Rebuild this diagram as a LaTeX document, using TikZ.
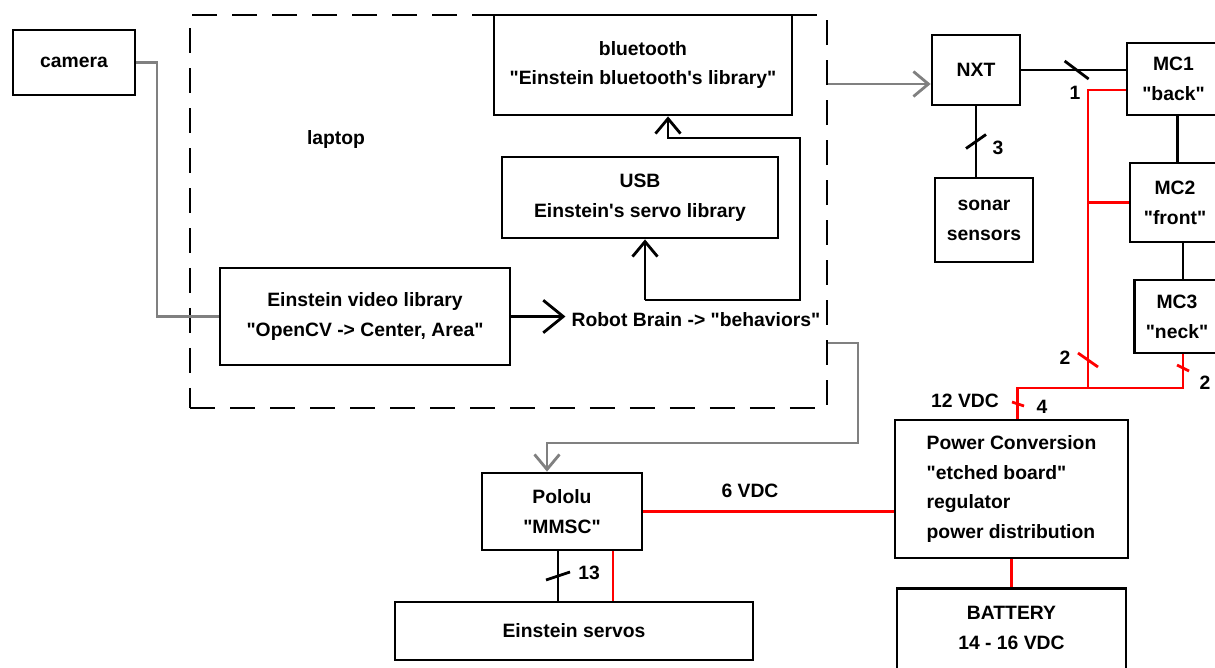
\documentclass[tikz,border=0pt]{standalone}
\usepackage{fontspec}
\setmainfont{Liberation Sans}[Ligatures=TeXOff]
\usetikzlibrary{arrows.meta, positioning, calc}

\begin{document}
\begin{tikzpicture}[
                x=0.02cm, y=-0.02cm,
                font=\bfseries\fontsize{11}{17}\selectfont,
                box/.style={rectangle, draw, line width=1.6pt, align=center, inner sep=2pt},
                frame/.style={rectangle, draw, line width=1.6pt, dash pattern=on 0.5cm off 0.3cm},
                wire/.style={line width=1.6pt},
                graywire/.style={line width=1.6pt, draw=gray},
                redwire/.style={line width=1.6pt, draw=red},
                openarrow/.style={-{Straight Barb[length=3mm, width=5mm]}}
            ]
                \useasboundingbox (0,0) rectangle (1215,667);

                % Laptop
                \node[frame, minimum width=12.74cm, minimum height=7.86cm] (laptop) at (508.5,211.5) {};
                \node (laptoplabel) at (336,139) {laptop};
                \node[box, minimum width=5.96cm, minimum height=2cm] (bt) at (643,65) {bluetooth\\"Einstein bluetooth's library"};
                \node[box, minimum width=5.52cm, minimum height=1.62cm] (usb) at (640,197.5) {USB\\Einstein's servo library};
                \node[box, minimum width=5.8cm, minimum height=1.94cm] (video) at (365,316.5) {Einstein video library\\"OpenCV -> Center, Area"};
                \node (brain) at (696,320) {Robot Brain -> "behaviors"};
                \node[box, minimum width=2.44cm, minimum height=1.3cm] (camera) at (74,62.5) {camera};

                % Robot side
                \node[box, minimum width=1.76cm, minimum height=1.4cm] (nxt) at (976,70) {NXT};
                \node[box, minimum width=1.96cm, minimum height=1.68cm] (sonar) at (984,220) {sonar\\sensors};
                \node[box, minimum width=1.86cm, minimum height=1.44cm] (mc1) at (1173.5,79) {MC1\\"back"};
                \node[box, minimum width=1.8cm, minimum height=1.58cm] (mc2) at (1175,202.5) {MC2\\"front"};
                \node[box, minimum width=1.7cm, minimum height=1.46cm] (mc3) at (1177,316.5) {MC3\\"neck"};

                % Power
                \node[box, align=left, minimum width=4.66cm, minimum height=2.76cm] (power) at (1011.5,489) {Power Conversion\\"etched board"\\regulator\\power distribution};
                \node[box, anchor=north, minimum width=4.58cm, minimum height=2.16cm] (battery) at (1011.5,587) {BATTERY\\14 - 16 VDC\\\mbox{}};
                \node[box, minimum width=3.2cm, minimum height=1.54cm] (pololu) at (562,511.5) {Pololu\\"MMSC"};
                \node[box, minimum width=7.16cm, minimum height=1.16cm] (servos) at (574,631) {Einstein servos};

                % Data (gray)
                \coordinate (camdrop) at (157,0);
                \draw[graywire] (camera.east) -| (camdrop |- video.west) -- (video.west);
                \draw[graywire, openarrow] (laptop.east |- 0,84) -- (nxt.west |- 0,84);
                \draw[graywire, openarrow] (laptop.east |- 0,343) -| (858,443) -| ($(pololu.north)+(-15,0)$);

                % Laptop internals
                \coordinate (hub) at (645,300);
                \draw[wire, -{Straight Barb[length=4mm, width=6.5mm]}] (video.east) -- (video.east -| brain.west);
                \draw[wire, openarrow] (hub) -- (hub |- usb.south);
                \draw[wire, openarrow] (hub) -| (800,138) -| ($(bt.south)+(25,0)$);

                % Robot links
                \coordinate (mcbus1) at ($(mc1.south)+(4,0)$);
                \coordinate (mcbus2) at ($(mc3.north)+(6,0)$);
                \coordinate (servobus) at ($(pololu.south)+(-4,0)$);
                \coordinate (servopwr) at ($(pololu.south)+(51,0)$);
                \draw[wire] (nxt.east) -- coordinate[pos=0.53] (t1) (nxt.east -| mc1.west);
                \draw[wire] (nxt.south) -- coordinate[pos=0.5] (t3) (nxt.south |- sonar.north);
                \draw[wire] (mcbus1) -- (mcbus1 |- mc2.north);
                \draw[wire] (mcbus2 |- mc2.south) -- (mcbus2);
                \draw[wire] (servobus) -- coordinate[pos=0.5] (t13) (servobus |- servos.north);

                % Power (red)
                \coordinate (bus) at (1088,388);
                \draw[redwire] (mc1.west |- 0,90) -| (bus);
                \draw[redwire] (mc2.west) -- (mc2.west -| bus);
                \draw[redwire] ($(power.north)+(6,0)$) |- (bus) -| ($(mc3.south)+(6,0)$);
                \draw[redwire] (power.south) -- (power.south |- battery.north);
                \draw[redwire] (pololu.east) -- (pololu.east -| power.west);
                \draw[redwire] (servopwr) -- (servopwr |- servos.north);

                % Wire counts
                \coordinate (t2a) at (1088,360);
                \coordinate (t2b) at (1183,368);
                \coordinate (t4) at (1018,404);
                \draw[wire] ($(t1)+(-12,-9)$) -- ($(t1)+(12,9)$);
                \draw[wire] ($(t3)+(-10,7)$) -- ($(t3)+(10,-7)$);
                \draw[wire] ($(t13)+(-12,4)$) -- ($(t13)+(12,-4)$);
                \draw[redwire] ($(t2a)+(-10,-7)$) -- ($(t2a)+(10,7)$);
                \draw[redwire] ($(t2b)+(-6,-3)$) -- ($(t2b)+(6,3)$);
                \draw[redwire] ($(t4)+(-6,-2)$) -- ($(t4)+(6,2)$);
                \node (n1) at (1075,93) {1};
                \node (n3) at (998,148) {3};
                \node (n2a) at (1065,358) {2};
                \node (n2b) at (1205,383) {2};
                \node (n4) at (1042,407) {4};
                \node (v12) at (965,401) {12 VDC};
                \node (v6) at (750,491) {6 VDC};
                \node (n13) at (589,573) {13};
            \end{tikzpicture}
\end{document}
